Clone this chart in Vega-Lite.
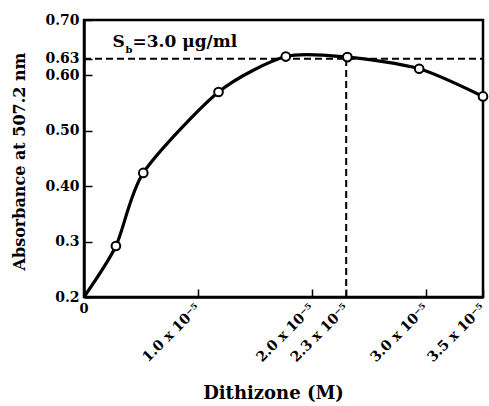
{
  "$schema": "https://vega.github.io/schema/vega-lite/v6.json",
  "autosize": "none",
  "width": 399,
  "height": 277,
  "padding": {"left": 84, "top": 20, "right": 6, "bottom": 109},
  "background": "white",
  "config": {
    "view": {"stroke": "black", "strokeWidth": 2.5},
    "font": "DejaVu Serif",
    "axis": {
      "grid": false,
      "domainColor": "black",
      "domainWidth": 2.5,
      "tickColor": "black",
      "tickWidth": 1.5,
      "tickSize": -8,
      "labelFont": "DejaVu Serif",
      "labelFontWeight": "bold",
      "labelFontSize": 14,
      "labelColor": "black",
      "titleFont": "DejaVu Serif",
      "titleFontWeight": "bold",
      "titleColor": "black"
    }
  },
  "layer": [
    {
      "data": {"values": [{"x": 0, "x2": 3.5, "y": 0.63}]},
      "mark": {"type": "rule", "strokeDash": [7, 4], "strokeWidth": 2, "color": "black"},
      "encoding": {
        "x": {"field": "x", "type": "quantitative"},
        "x2": {"field": "x2"},
        "y": {"field": "y", "type": "quantitative"}
      }
    },
    {
      "data": {"values": [{"x": 2.3, "y": 0.2, "y2": 0.63}]},
      "mark": {"type": "rule", "strokeDash": [7, 4], "strokeWidth": 2, "color": "black"},
      "encoding": {
        "x": {"field": "x", "type": "quantitative"},
        "y": {"field": "y", "type": "quantitative"},
        "y2": {"field": "y2"}
      }
    },
    {
      "data": {"values": [
        {"dithizone": 0, "absorbance": 0.2},
        {"dithizone": 0.28, "absorbance": 0.292},
        {"dithizone": 0.52, "absorbance": 0.424},
        {"dithizone": 1.18, "absorbance": 0.57},
        {"dithizone": 1.77, "absorbance": 0.634},
        {"dithizone": 2.31, "absorbance": 0.633},
        {"dithizone": 2.94, "absorbance": 0.612},
        {"dithizone": 3.5, "absorbance": 0.562}
      ]},
      "mark": {"type": "line", "interpolate": "cardinal", "tension": 0.25, "color": "black", "strokeWidth": 3.2},
      "encoding": {
        "x": {
          "field": "dithizone", "type": "quantitative",
          "scale": {"domain": [0, 3.5], "nice": false, "zero": false},
          "axis": {
            "title": "Dithizone (M)",
            "titleFontSize": 18,
            "titleX": 189,
            "titleY": 101,
            "titleBaseline": "alphabetic",
            "values": [0, 1, 2, 2.3, 3, 3.5],
            "labelExpr": "datum.value == 0 ? '' : format(datum.value, '.1f') + ' x 10⁻⁵'",
            "labelFontSize": 14,
            "labelAngle": -45,
            "labelAlign": "right",
            "labelBaseline": "middle",
            "labelPadding": 17,
            "labelOverlap": false
          }
        },
        "y": {
          "field": "absorbance", "type": "quantitative",
          "scale": {"domain": [0.2, 0.7], "nice": false, "zero": false},
          "axis": {
            "title": "Absorbance at 507.2 nm",
            "titleFontSize": 16,
            "titleX": -65,
            "titleY": 141,
            "titleBaseline": "middle",
            "values": [0.2, 0.3, 0.4, 0.5, 0.6, 0.63, 0.7],
            "labelExpr": "datum.value == 0.2 ? '0.2' : datum.value == 0.3 ? '0.3' : format(datum.value, '.2f')",
            "labelOverlap": false,
            "labelPadding": 13
          }
        }
      }
    },
    {
      "data": {"values": [
        {"dithizone": 0.28, "absorbance": 0.292},
        {"dithizone": 0.52, "absorbance": 0.424},
        {"dithizone": 1.18, "absorbance": 0.57},
        {"dithizone": 1.77, "absorbance": 0.634},
        {"dithizone": 2.31, "absorbance": 0.633},
        {"dithizone": 2.94, "absorbance": 0.612},
        {"dithizone": 3.5, "absorbance": 0.562}
      ]},
      "mark": {"type": "point", "shape": "circle", "filled": true, "fill": "white", "stroke": "black", "strokeWidth": 2, "size": 75, "opacity": 1},
      "encoding": {
        "x": {"field": "dithizone", "type": "quantitative"},
        "y": {"field": "absorbance", "type": "quantitative"}
      }
    },
    {
      "data": {"values": [{"x": 0, "y": 0.2, "label": "0"}]},
      "mark": {"type": "text", "font": "DejaVu Serif", "fontWeight": "bold", "fontSize": 13, "dy": 12, "color": "black"},
      "encoding": {
        "x": {"field": "x", "type": "quantitative"},
        "y": {"field": "y", "type": "quantitative"},
        "text": {"field": "label"}
      }
    },
    {
      "data": {"values": [{"x": 0.25, "y": 0.66, "label": "S"}]},
      "mark": {"type": "text", "font": "DejaVu Serif", "fontWeight": "bold", "fontSize": 17, "align": "left", "baseline": "middle", "color": "black"},
      "encoding": {
        "x": {"field": "x", "type": "quantitative"},
        "y": {"field": "y", "type": "quantitative"},
        "text": {"field": "label"}
      }
    },
    {
      "data": {"values": [{"x": 0.25, "y": 0.66, "label": "b"}]},
      "mark": {"type": "text", "font": "DejaVu Serif", "fontWeight": "bold", "fontSize": 10, "align": "left", "baseline": "middle", "dx": 13, "dy": 8, "color": "black"},
      "encoding": {
        "x": {"field": "x", "type": "quantitative"},
        "y": {"field": "y", "type": "quantitative"},
        "text": {"field": "label"}
      }
    },
    {
      "data": {"values": [{"x": 0.25, "y": 0.66, "label": "=3.0 μg/ml"}]},
      "mark": {"type": "text", "font": "DejaVu Serif", "fontWeight": "bold", "fontSize": 17, "align": "left", "baseline": "middle", "dx": 20, "color": "black"},
      "encoding": {
        "x": {"field": "x", "type": "quantitative"},
        "y": {"field": "y", "type": "quantitative"},
        "text": {"field": "label"}
      }
    }
  ]
}
